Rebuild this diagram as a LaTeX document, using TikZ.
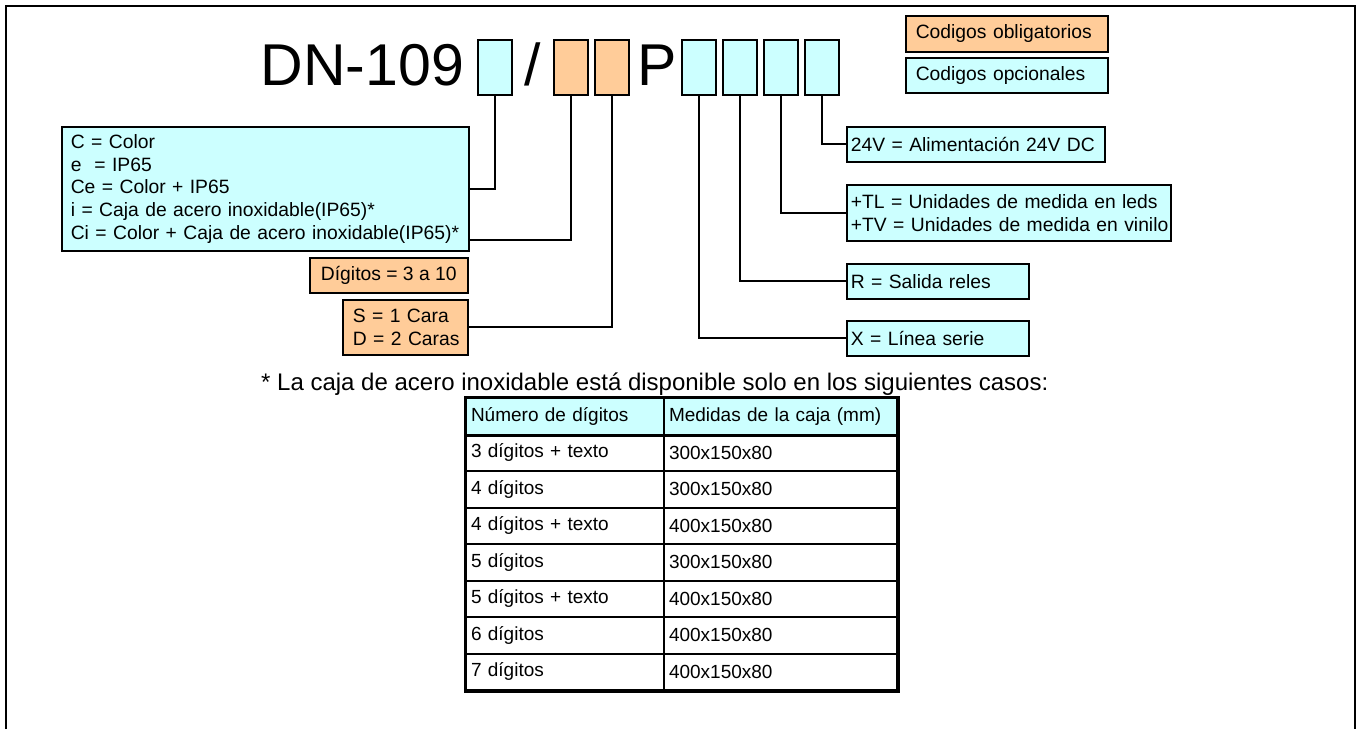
\documentclass[tikz,border=0pt]{standalone}
\usepackage{fontspec}
\setmainfont{Liberation Sans}
\definecolor{cy}{HTML}{CCFFFF}
\definecolor{og}{HTML}{FFCC99}
\begin{document}
\begin{tikzpicture}[x=1pt,y=-1pt,
  box/.style={draw=black, line width=1.6pt, inner sep=0pt, anchor=north west,
    font=\fontsize{19.3}{22.7}\selectfont},
  cbox/.style={box, fill=cy},
  obox/.style={box, fill=og},
  code/.style={draw=black, line width=1.6pt, anchor=north west,
    minimum width=34pt, minimum height=55pt, inner sep=0pt},
  wire/.style={draw=black, line width=2pt},
  big/.style={font=\fontsize{59}{62}\selectfont, inner sep=0pt, anchor=base west},
  cell/.style={draw=black, line width=2pt, anchor=north west, inner sep=0pt,
    inner xsep=5pt, minimum height=36.5pt, align=left,
    font=\fontsize{19}{22}\selectfont},
  cella/.style={cell, text width=188pt},
  cellb/.style={cell, text width=223pt},
]
\useasboundingbox (0,0) rectangle (1361,729);
\draw[line width=2pt] (6,729) -- (6,6) -- (1355,6) -- (1355,729);

% title and code boxes
\node[big] (dn) at (260.5,85) {DN-109};
\node[code, fill=cy] (c1) at (477,39) {};
\node[big] (sl) at (524,85) {/};
\node[code, fill=og] (o1) at (553,39) {};
\node[code, fill=og] (o2) at (594,39) {};
\node[big] (p) at (637,85) {P};
\node[code, fill=cy] (c2) at (681,39) {};
\node[code, fill=cy] (c3) at (722,39) {};
\node[code, fill=cy] (c4) at (763,39) {};
\node[code, fill=cy] (c5) at (804,39) {};

% legend
\node[obox, inner xsep=10pt, text width=182pt, align=left, minimum height=36pt] (lo) at (905,15) {\mbox{Codigos obligatorios}};
\node[cbox, inner xsep=10pt, text width=182pt, align=left, minimum height=35pt] (lc) at (905,57) {\mbox{Codigos opcionales}};

% left boxes
\node[cbox, inner xsep=9pt, text width=389pt, align=left, minimum height=124pt] (lb) at (61,126)
  {\mbox{C = Color}\\\mbox{e \ = IP65}\\\mbox{Ce = Color + IP65}\\\mbox{i = Caja de acero inoxidable(IP65)*}\\\mbox{Ci = Color + Caja de acero inoxidable(IP65)*}};
\node[obox, minimum width=158pt, minimum height=35pt, align=center] (dg) at (309,257) {Dígitos = 3 a 10};
\node[obox, inner xsep=10pt, text width=105pt, align=left, minimum height=55pt] (sd) at (342,299) {\mbox{S = 1 Cara}\\\mbox{D = 2 Caras}};

% right boxes
\node[cbox, inner xsep=4pt, text width=250pt, align=left, minimum height=35pt] (r24) at (846,126) {\mbox{24V = Alimentación 24V DC}};
\node[cbox, inner xsep=4pt, text width=316pt, align=left, minimum height=56pt] (rtl) at (846,184) {\mbox{+TL = Unidades de medida en leds}\\\mbox{+TV = Unidades de medida en vinilo}};
\node[cbox, inner xsep=4pt, text width=174pt, align=left, minimum height=35pt] (rr) at (846,263) {\mbox{R = Salida reles}};
\node[cbox, inner xsep=4pt, text width=174pt, align=left, minimum height=35pt] (rx) at (846,320) {\mbox{X = Línea serie}};

% connectors
\path (lb.south east) ++(0,-12) coordinate (k1);
\draw[wire] (c1.south) |- (lb.east);
\draw[wire] (o1.south) |- (k1);
\draw[wire] (o2.south) |- (sd.east);
\draw[wire] (c2.south) |- (rx.west);
\draw[wire] (c3.south) |- (rr.west);
\draw[wire] (c4.south) |- (rtl.west);
\draw[wire] (c5.south) |- (r24.west);

% footnote
\node[anchor=base west, inner sep=0pt, font=\fontsize{24}{28}\selectfont] (fn) at (261,390)
  {* La caja de acero inoxidable está disponible solo en los siguientes casos:};

% table
\node[cella, fill=cy] (ta0) at (465,397) {Número de dígitos};
\node[cellb, fill=cy] (tb0) at (663,397) {Medidas de la caja (mm)};
\foreach \i/\a/\b in {1/3 dígitos + texto/300x150x80, 2/4 dígitos/300x150x80,
  3/4 dígitos + texto/400x150x80, 4/5 dígitos/300x150x80, 5/5 dígitos + texto/400x150x80,
  6/6 dígitos/400x150x80, 7/7 dígitos/400x150x80}{
  \node[cella] (ta\i) at (465,{397+36.5*\i}) {\a};
  \node[cellb] (tb\i) at (663,{397+36.5*\i}) {\b};
}
\draw[line width=3pt] (ta0.north west) rectangle (tb7.south east);
\draw[line width=3pt] (ta0.south west) -- (tb0.south east);
\end{tikzpicture}
\end{document}
